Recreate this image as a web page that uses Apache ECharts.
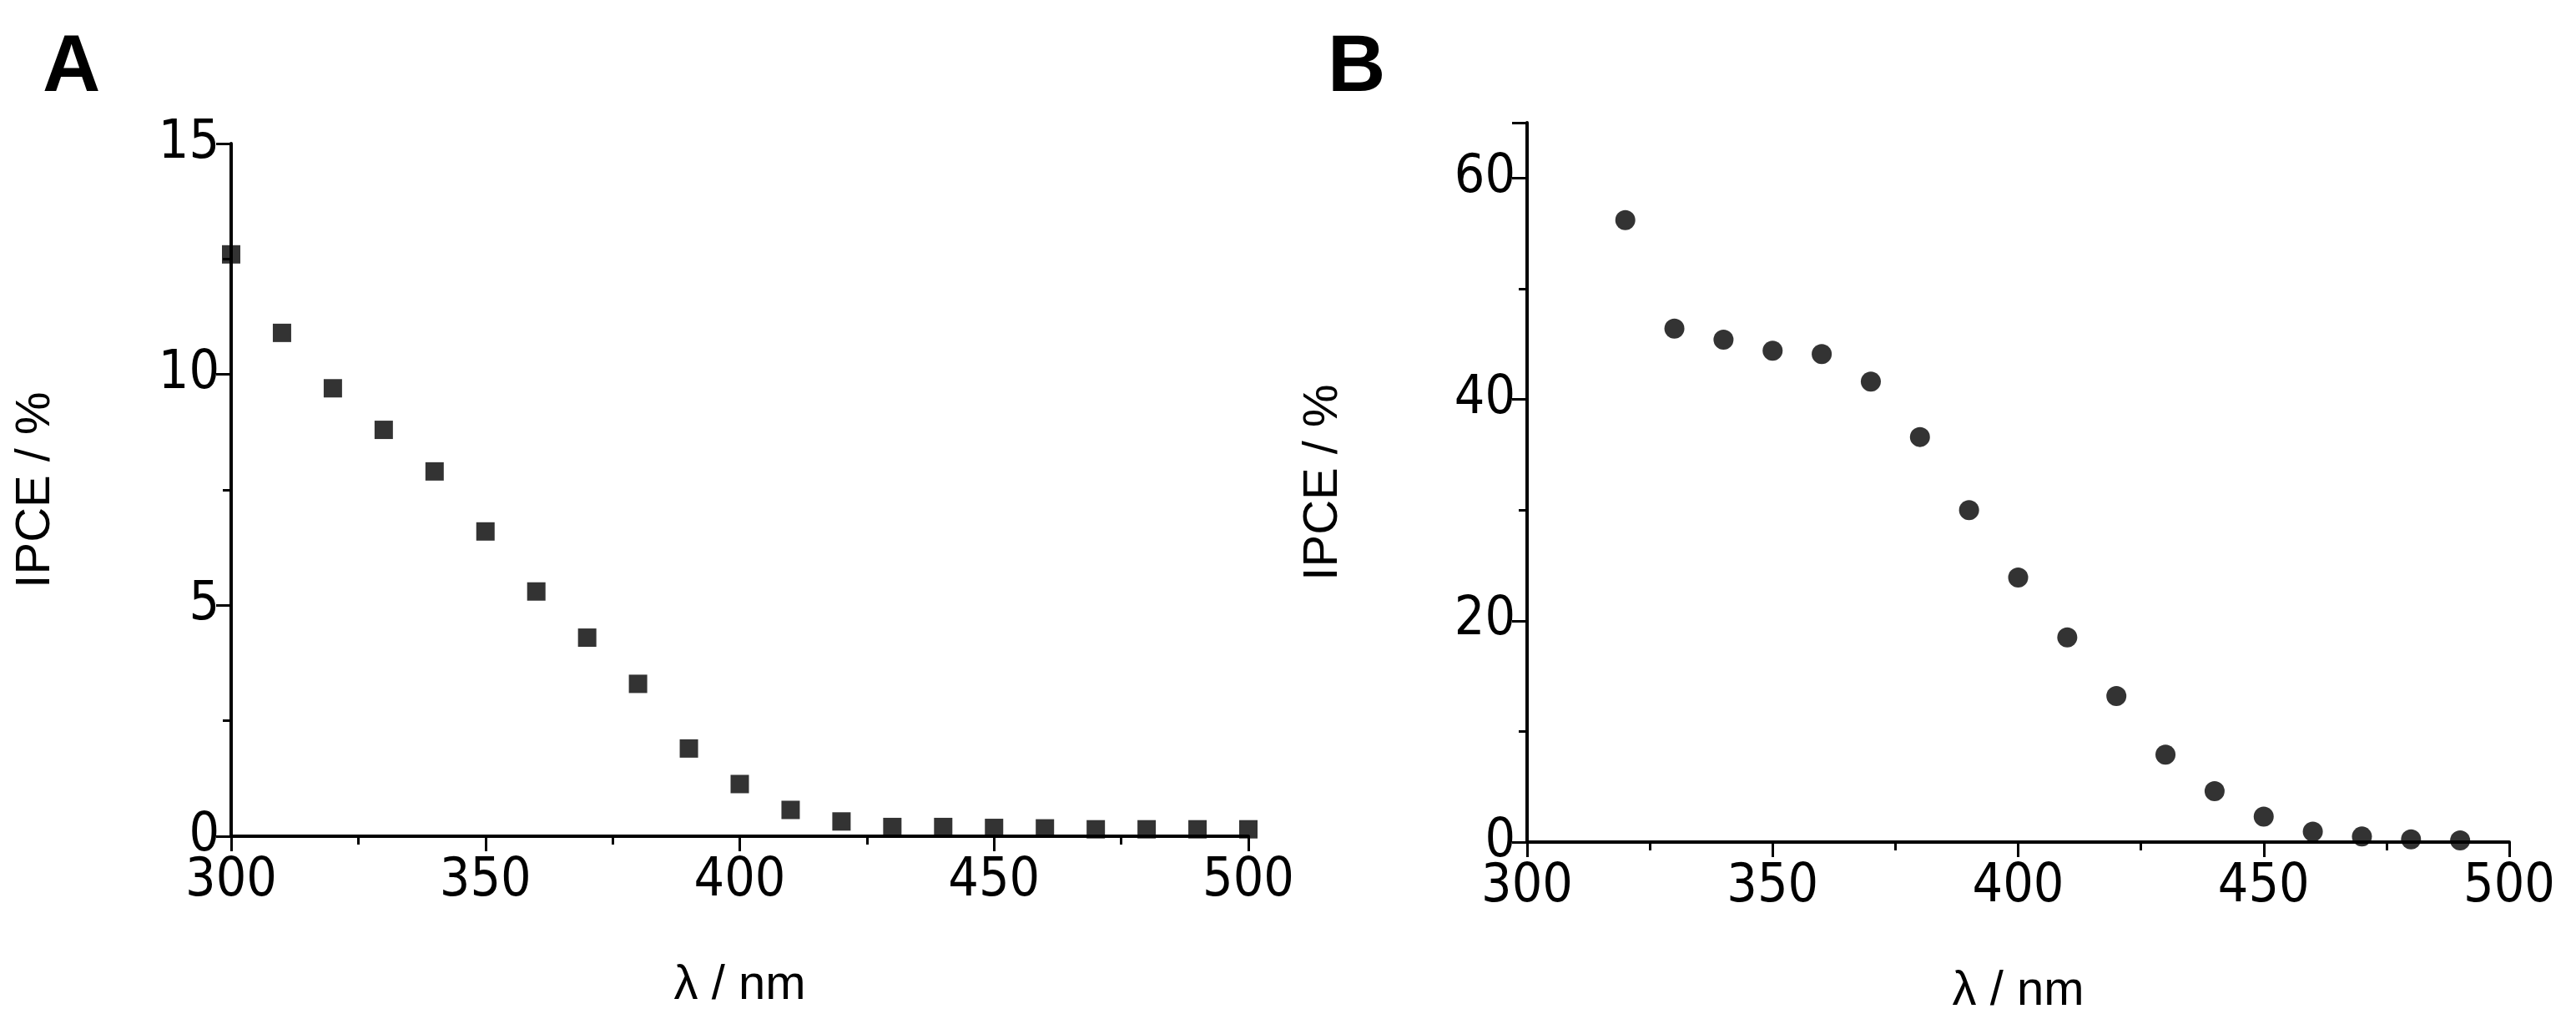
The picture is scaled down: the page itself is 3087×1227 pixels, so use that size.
<!DOCTYPE html>
<html lang="en">
<head>
<meta charset="UTF-8">
<title>IPCE</title>
<script src="https://cdn.jsdelivr.net/npm/echarts@6/dist/echarts.min.js"></script>
<style>html,body{margin:0;background:#fff}</style>
</head>
<body>
<div id="chart" style="width:3087px;height:1227px"></div>
<script>
// panel A (squares) and panel B (circles)
var wlA = [300, 310, 320, 330, 340, 350, 360, 370, 380, 390, 400, 410, 420, 430, 440, 450, 460, 470, 480, 490, 500];
var ipceA = [12.6, 10.9, 9.7, 8.8, 7.9, 6.6, 5.3, 4.3, 3.3, 1.9, 1.13, 0.57, 0.32, 0.2, 0.2, 0.18, 0.17, 0.15, 0.15, 0.15, 0.15];
var wlB = [320, 330, 340, 350, 360, 370, 380, 390, 400, 410, 420, 430, 440, 450, 460, 470, 480, 490];
var ipceB = [56.2, 46.4, 45.4, 44.4, 44.1, 41.6, 36.6, 30, 23.9, 18.5, 13.2, 7.9, 4.6, 2.3, 0.95, 0.5, 0.25, 0.15];

function pairs(x, y) {
    var out = [];
    for (var i = 0; i < x.length; i++) out.push([x[i], y[i]]);
    return out;
}

var tickFont = {color: '#000', fontSize: 64, fontFamily: 'Liberation Sans Narrow, DejaVu Sans Condensed, sans-serif'};
var nameFont = {color: '#000', fontSize: 58, fontFamily: 'Liberation Sans, Arial, sans-serif'};
var line = {show: true, onZero: false, lineStyle: {color: '#000', width: 4}};

function xAx(idx) {
    return {
        gridIndex: idx, type: 'value', min: 300, max: 500, interval: 50,
        name: 'λ / nm', nameLocation: 'middle', nameGap: 150, nameTextStyle: nameFont,
        axisLine: line, axisTick: {show: true, length: 18, lineStyle: {color: '#000', width: 3}},
        minorTick: {show: true, splitNumber: 2, length: 10, lineStyle: {color: '#000', width: 3}},
        splitLine: {show: false}, axisLabel: Object.assign({margin: 22}, tickFont)
    };
}
function yAx(idx, max, interval) {
    return {
        gridIndex: idx, type: 'value', min: 0, max: max, interval: interval,
        name: 'IPCE / %', nameLocation: 'middle', nameGap: idx === 0 ? 205 : 215, nameTextStyle: nameFont,
        axisLine: line, axisTick: {show: true, length: 18, lineStyle: {color: '#000', width: 3}},
        minorTick: {show: true, splitNumber: 2, length: 10, lineStyle: {color: '#000', width: 3}},
        splitLine: {show: false}, axisLabel: Object.assign({margin: 14, showMaxLabel: idx === 0}, tickFont)
    };
}

var chart = echarts.init(document.getElementById('chart'));
chart.setOption({
    backgroundColor: '#fff',
    animation: false,
    title: [
        {text: 'A', left: 46, top: 30, textStyle: {fontSize: 96, fontWeight: 'bold', color: '#000', fontFamily: 'Liberation Sans, Arial, sans-serif'}},
        {text: 'B', left: 1586, top: 30, textStyle: {fontSize: 96, fontWeight: 'bold', color: '#000', fontFamily: 'Liberation Sans, Arial, sans-serif'}}
    ],
    grid: [
        {left: 277, right: 1591, top: 172, bottom: 225},
        {left: 1830, right: 80, top: 147, bottom: 218}
    ],
    xAxis: [xAx(0), xAx(1)],
    yAxis: [yAx(0, 15, 5), yAx(1, 65, 20)],
    series: [
        {type: 'scatter', xAxisIndex: 0, yAxisIndex: 0, symbol: 'rect', symbolSize: 22,
            itemStyle: {color: '#000'}, data: pairs(wlA, ipceA), clip: false},
        {type: 'scatter', xAxisIndex: 1, yAxisIndex: 1, symbol: 'circle', symbolSize: 24,
            itemStyle: {color: '#000'}, data: pairs(wlB, ipceB), clip: false}
    ]
});
</script>
</body>
</html>
